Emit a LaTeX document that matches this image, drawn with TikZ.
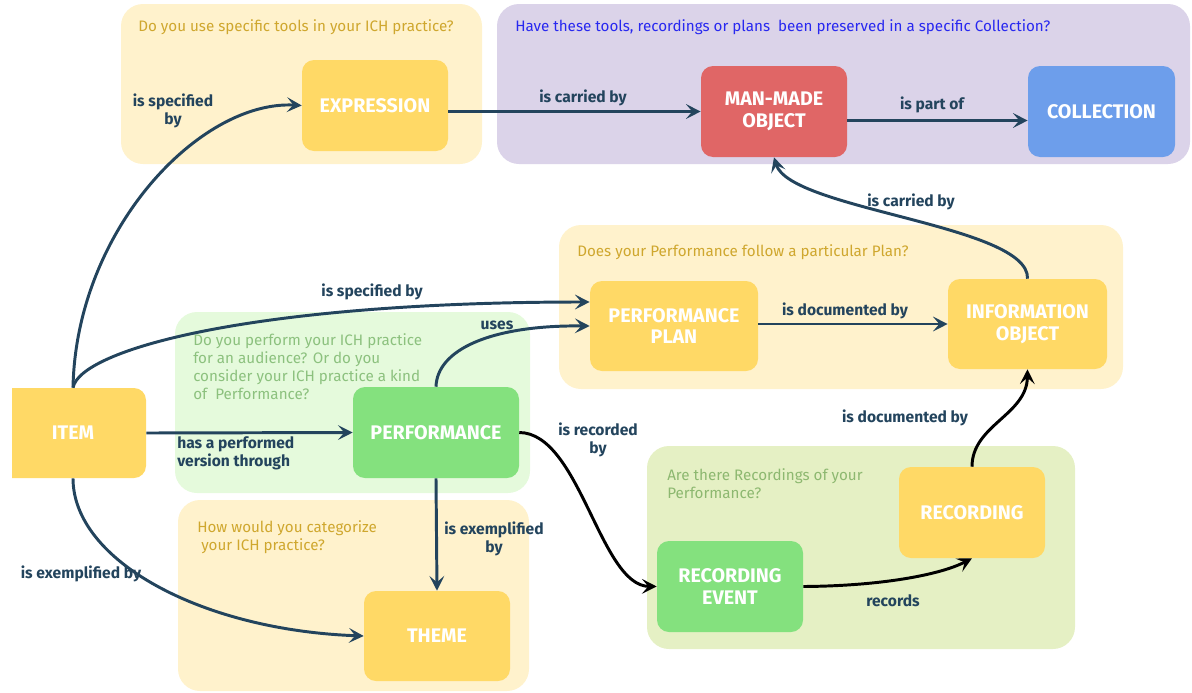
\documentclass[tikz,border=0pt]{standalone}
\usepackage{fontspec}
\setmainfont{Fira Sans}
\usetikzlibrary{arrows.meta,calc}
\definecolor{edge}{HTML}{23445D}
\definecolor{ynode}{HTML}{FFD966}
\definecolor{ygroup}{HTML}{FFF2CC}
\definecolor{pgroup}{HTML}{DBD3E9}
\definecolor{rnode}{HTML}{E06666}
\definecolor{bnode}{HTML}{6D9EEB}
\definecolor{gnode}{HTML}{84E17E}
\definecolor{ggroup}{HTML}{E5FADC}
\definecolor{rgroup}{HTML}{E5F0C4}
\definecolor{yq}{HTML}{CFA72E}
\definecolor{pq}{HTML}{2828F0}
\definecolor{gq}{HTML}{8CC17E}
\definecolor{rq}{HTML}{8DB870}
\begin{document}
\begin{tikzpicture}[x=0.025cm,y=-0.025cm,
  sz/.style 2 args={minimum width=#1*0.025cm, minimum height=#2*0.025cm},
  box/.style={rounded corners=0.3cm, inner sep=0pt, align=center, text=white,
    font=\bfseries\fontsize{14}{15.5}\selectfont},
  grp/.style={rounded corners=0.55cm},
  lbl/.style={text=edge, font=\bfseries\fontsize{11.1}{12.8}\selectfont, align=center, inner sep=0pt},
  qtext/.style={font=\fontsize{10.8}{12.8}\selectfont, align=left, anchor=west, inner sep=0pt},
  arr/.style={draw=edge, line width=2.1pt, line join=round,
    -{Stealth[length=10.5pt,width=10.5pt,inset=4.5pt]}},
  barr/.style={arr, draw=black},
]
\useasboundingbox (0,0) rectangle (1192,692);

% groups
\fill[ygroup, grp] (121,4) rectangle (482,164);
\fill[pgroup, grp] (497,4) rectangle (1190,164);
\fill[ygroup, grp] (559,225) rectangle (1123,389);
\fill[ggroup, grp] (175,312) rectangle (530,493);
\fill[ygroup, grp] (178,500) rectangle (529,691);
\fill[rgroup, grp] (647,446) rectangle (1075,649);

% questions
\node[qtext, text=yq] (q1) at (138,27) {Do you use specific tools in your ICH practice?};
\node[qtext, text=pq, font=\fontsize{10.8}{12.8}\selectfont] (q2) at (515,27) {Have these tools, recordings or plans \ been preserved in a specific Collection?};
\node[qtext, text=yq] (q3) at (577,252) {Does your Performance follow a particular Plan?};
\node[qtext, text=gq] (q4) at (193,367) {Do you perform your ICH practice\\for an audience? Or do you\\consider your ICH practice a kind\\of \ Performance?};
\node[qtext, text=yq] (q5) at (197,537.5) {How would you categorize\\\ your ICH practice?};
\node[qtext, text=rq] (q6) at (667,484) {Are there Recordings of your\\Performance?};

% nodes
\node[box, sz={146}{91}, fill=ynode] (expr) at (375,105.5) {EXPRESSION};
\node[box, sz={146}{91}, fill=rnode] (mmo) at (774,111.5) {MAN-MADE\\OBJECT};
\node[box, sz={147}{91}, fill=bnode] (coll) at (1101.5,111.5) {COLLECTION};
\node[box, sz={168}{90}, fill=ynode] (plan) at (674,326) {PERFORMANCE\\PLAN};
\node[box, sz={159}{90}, fill=ynode] (info) at (1027.5,324) {INFORMATION\\OBJECT};
\node[box, sz={146}{90}, fill=ynode] (item) at (73,433) {ITEM};
\fill[white] (-2,380) rectangle (12,486);
\node[box, sz={166}{91}, fill=gnode] (perf) at (436,432.5) {PERFORMANCE};
\node[box, sz={146}{90}, fill=ynode] (theme) at (437,636) {THEME};
\node[box, sz={146}{91}, fill=gnode] (recev) at (730,586.5) {RECORDING\\EVENT};
\node[box, sz={146}{91}, fill=ynode] (rec) at (972,512.5) {RECORDING};

% connectors
\draw[arr] (item.north) .. controls (76,230) and (200,100) .. (expr.west);
\draw[arr] (item.north) .. controls (80,350) and (250,302) .. ($(plan.west)+(0,-24)$);
\draw[arr] (perf.north) .. controls (437,350) and (490,325) .. (plan.west);
\draw[arr] (expr.east |- mmo.west) -- (mmo.west);
\draw[arr] ($(mmo.east)+(0,9)$) -- ($(coll.west)+(0,9)$);
\draw[arr] (info.north) .. controls (1030,225) and (790,210) .. (mmo.south);
\draw[arr] (plan.east |- info.west) -- (info.west);
\draw[arr] (item.east) -- (perf.west);
\draw[arr] (perf.south) -- (theme.north);
\draw[arr] (item.south) .. controls (73,560) and (200,630) .. (theme.west);
\draw[barr] (perf.east) .. controls (580,433) and (600,586) .. (recev.west);
\draw[barr] (recev.east) .. controls (880,586) and (940,575) .. (rec.south);
\draw[barr] (rec.north) .. controls (972,425) and (1027,415) .. (info.south);

% labels
\node[lbl] (l1) at (173,111) {is specified\\by};
\node[lbl] (l2) at (583,98) {is carried by};
\node[lbl] (l3) at (932,105) {is part of};
\node[lbl] (l4) at (911,202) {is carried by};
\node[lbl] (l5) at (845,311) {is documented by};
\node[lbl] (l6) at (372,292) {is specified by};
\node[lbl] (l7) at (497,325) {uses};
\node[lbl, align=left, anchor=west] (l8) at (177,453) {has a performed\\version through};
\node[lbl] (l9) at (494,539) {is exemplified\\by};
\node[lbl] (l10) at (81,574) {is exemplified by};
\node[lbl] (l11) at (598,440) {is recorded\\by};
\node[lbl] (l12) at (893,601) {records};
\node[lbl] (l13) at (905,418) {is documented by};
\end{tikzpicture}
\end{document}
